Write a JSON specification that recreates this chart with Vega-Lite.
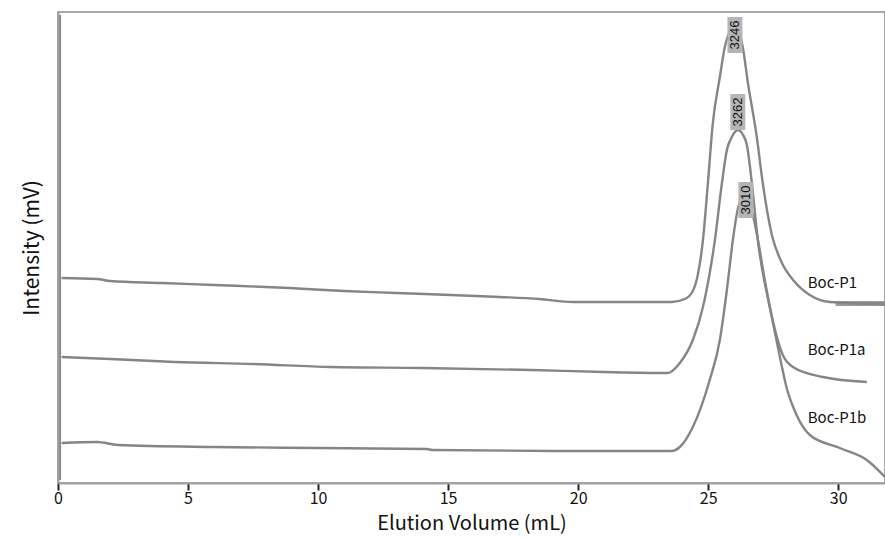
{
  "$schema": "https://vega.github.io/schema/vega-lite/v6.json",
  "width": 827,
  "height": 471,
  "autosize": {"type": "none"},
  "padding": {"left": 58, "top": 12, "right": 0, "bottom": 55},
  "background": "white",
  "config": {
    "view": {"stroke": "#a8a8a8", "strokeWidth": 2},
    "font": "Noto Sans CJK JP",
    "axis": {"grid": false}
  },
  "datasets": {
    "traces": [
      {"series": "Boc-P1", "x": 0.14, "y": 205},
      {"series": "Boc-P1", "x": 1.5, "y": 204},
      {"series": "Boc-P1", "x": 2.0, "y": 202},
      {"series": "Boc-P1", "x": 4.0, "y": 200},
      {"series": "Boc-P1", "x": 6.0, "y": 198},
      {"series": "Boc-P1", "x": 8.9, "y": 195},
      {"series": "Boc-P1", "x": 11.0, "y": 192},
      {"series": "Boc-P1", "x": 13.0, "y": 190},
      {"series": "Boc-P1", "x": 15.1, "y": 188},
      {"series": "Boc-P1", "x": 17.0, "y": 186},
      {"series": "Boc-P1", "x": 18.5, "y": 184},
      {"series": "Boc-P1", "x": 19.8, "y": 181},
      {"series": "Boc-P1", "x": 22.0, "y": 181},
      {"series": "Boc-P1", "x": 23.6, "y": 181},
      {"series": "Boc-P1", "x": 24.1, "y": 184},
      {"series": "Boc-P1", "x": 24.37, "y": 190},
      {"series": "Boc-P1", "x": 24.6, "y": 208},
      {"series": "Boc-P1", "x": 24.8, "y": 243},
      {"series": "Boc-P1", "x": 24.99, "y": 300},
      {"series": "Boc-P1", "x": 25.18, "y": 360},
      {"series": "Boc-P1", "x": 25.45, "y": 406},
      {"series": "Boc-P1", "x": 25.64, "y": 436},
      {"series": "Boc-P1", "x": 25.85, "y": 452},
      {"series": "Boc-P1", "x": 26.03, "y": 456},
      {"series": "Boc-P1", "x": 26.2, "y": 450},
      {"series": "Boc-P1", "x": 26.33, "y": 436},
      {"series": "Boc-P1", "x": 26.53, "y": 400},
      {"series": "Boc-P1", "x": 26.87, "y": 346},
      {"series": "Boc-P1", "x": 27.1, "y": 300},
      {"series": "Boc-P1", "x": 27.45, "y": 248},
      {"series": "Boc-P1", "x": 27.8, "y": 222},
      {"series": "Boc-P1", "x": 28.3, "y": 202},
      {"series": "Boc-P1", "x": 28.91, "y": 188},
      {"series": "Boc-P1", "x": 29.68, "y": 181},
      {"series": "Boc-P1", "x": 31.8, "y": 179},
      {"series": "Boc-P1a", "x": 0.14, "y": 126},
      {"series": "Boc-P1a", "x": 2.0, "y": 124},
      {"series": "Boc-P1a", "x": 4.5, "y": 121},
      {"series": "Boc-P1a", "x": 7.5, "y": 119},
      {"series": "Boc-P1a", "x": 10.5, "y": 116},
      {"series": "Boc-P1a", "x": 14.0, "y": 115},
      {"series": "Boc-P1a", "x": 18.2, "y": 113},
      {"series": "Boc-P1a", "x": 21.0, "y": 111},
      {"series": "Boc-P1a", "x": 23.45, "y": 110},
      {"series": "Boc-P1a", "x": 23.91, "y": 120},
      {"series": "Boc-P1a", "x": 24.41, "y": 143},
      {"series": "Boc-P1a", "x": 24.8, "y": 176},
      {"series": "Boc-P1a", "x": 25.06, "y": 210},
      {"series": "Boc-P1a", "x": 25.26, "y": 243},
      {"series": "Boc-P1a", "x": 25.53, "y": 300},
      {"series": "Boc-P1a", "x": 25.72, "y": 333},
      {"series": "Boc-P1a", "x": 25.91, "y": 346},
      {"series": "Boc-P1a", "x": 26.14, "y": 353},
      {"series": "Boc-P1a", "x": 26.32, "y": 349},
      {"series": "Boc-P1a", "x": 26.49, "y": 338},
      {"series": "Boc-P1a", "x": 26.68, "y": 300},
      {"series": "Boc-P1a", "x": 26.91, "y": 243},
      {"series": "Boc-P1a", "x": 27.37, "y": 176},
      {"series": "Boc-P1a", "x": 27.87, "y": 128},
      {"series": "Boc-P1a", "x": 28.26, "y": 116},
      {"series": "Boc-P1a", "x": 29.41, "y": 106},
      {"series": "Boc-P1a", "x": 31.1, "y": 101},
      {"series": "Boc-P1b", "x": 0.14, "y": 40},
      {"series": "Boc-P1b", "x": 1.5, "y": 41},
      {"series": "Boc-P1b", "x": 2.3, "y": 38},
      {"series": "Boc-P1b", "x": 6.0, "y": 36},
      {"series": "Boc-P1b", "x": 10.0, "y": 35},
      {"series": "Boc-P1b", "x": 14.18, "y": 34},
      {"series": "Boc-P1b", "x": 14.4, "y": 33},
      {"series": "Boc-P1b", "x": 19.0, "y": 32},
      {"series": "Boc-P1b", "x": 23.6, "y": 32},
      {"series": "Boc-P1b", "x": 23.91, "y": 36},
      {"series": "Boc-P1b", "x": 24.41, "y": 56},
      {"series": "Boc-P1b", "x": 25.06, "y": 103},
      {"series": "Boc-P1b", "x": 25.45, "y": 143},
      {"series": "Boc-P1b", "x": 25.72, "y": 193},
      {"series": "Boc-P1b", "x": 25.95, "y": 243},
      {"series": "Boc-P1b", "x": 26.15, "y": 275},
      {"series": "Boc-P1b", "x": 26.41, "y": 288},
      {"series": "Boc-P1b", "x": 26.7, "y": 270},
      {"series": "Boc-P1b", "x": 26.95, "y": 238},
      {"series": "Boc-P1b", "x": 27.15, "y": 207},
      {"series": "Boc-P1b", "x": 27.4, "y": 172},
      {"series": "Boc-P1b", "x": 27.68, "y": 136},
      {"series": "Boc-P1b", "x": 28.02, "y": 95},
      {"series": "Boc-P1b", "x": 28.4, "y": 68},
      {"series": "Boc-P1b", "x": 28.91, "y": 48},
      {"series": "Boc-P1b", "x": 30.06, "y": 35},
      {"series": "Boc-P1b", "x": 31.1, "y": 23},
      {"series": "Boc-P1b", "x": 31.8, "y": 6}
    ],
    "names": [
      {"series": "Boc-P1", "x": 28.83, "y": 200},
      {"series": "Boc-P1a", "x": 28.83, "y": 133},
      {"series": "Boc-P1b", "x": 28.83, "y": 65}
    ],
    "peaks": [
      {"label": "3246", "x": 26.03, "y": 448, "ylo": 430, "yhi": 466},
      {"label": "3262", "x": 26.14, "y": 371, "ylo": 353, "yhi": 389},
      {"label": "3010", "x": 26.45, "y": 283, "ylo": 265, "yhi": 301}
    ],
    "spike": [
      {"x": 0.08, "ylo": 3, "yhi": 468}
    ],
    "band": [
      {"x": 29.9, "x2": 31.8, "ylo": 177, "yhi": 182}
    ]
  },
  "layer": [
    {
      "data": {"name": "spike"},
      "mark": {"type": "rule", "color": "#8a8a8a", "strokeWidth": 2},
      "encoding": {
        "x": {"field": "x", "type": "quantitative", "scale": {"domain": [0, 31.8], "nice": false, "zero": false},
          "axis": {"values": [0, 5, 10, 15, 20, 25, 30], "title": "Elution Volume (mL)", "titleFontSize": 20, "titleFontWeight": "normal", "titleColor": "#111", "titlePadding": 7, "labelFontSize": 16, "labelColor": "#111", "labelPadding": 0, "tickSize": 7, "tickWidth": 2, "tickColor": "#222", "domainColor": "#a0a0a0", "domainWidth": 2, "labelFlush": false}},
        "y": {"field": "ylo", "type": "quantitative", "scale": {"domain": [0, 471], "nice": false},
          "axis": {"title": "Intensity (mV)", "titleFontSize": 21, "titleFontWeight": "normal", "titleColor": "#111", "labels": false, "ticks": false, "titlePadding": 16, "domainColor": "#a0a0a0", "domainWidth": 2}},
        "y2": {"field": "yhi"}
      }
    },
    {
      "data": {"name": "band"},
      "mark": {"type": "rect", "color": "#9a9a9a"},
      "encoding": {
        "x": {"field": "x", "type": "quantitative"},
        "x2": {"field": "x2"},
        "y": {"field": "ylo", "type": "quantitative"},
        "y2": {"field": "yhi"}
      }
    },
    {
      "data": {"name": "traces"},
      "mark": {"type": "line", "color": "#858585", "strokeWidth": 2.4, "interpolate": "monotone"},
      "encoding": {
        "x": {"field": "x", "type": "quantitative"},
        "y": {"field": "y", "type": "quantitative"},
        "detail": {"field": "series"}
      }
    },
    {
      "data": {"name": "peaks"},
      "mark": {"type": "rule", "color": "#b5b5b5", "strokeWidth": 15},
      "encoding": {
        "x": {"field": "x", "type": "quantitative"},
        "y": {"field": "ylo", "type": "quantitative"},
        "y2": {"field": "yhi"}
      }
    },
    {
      "data": {"name": "peaks"},
      "mark": {"type": "text", "angle": 270, "fontSize": 13, "color": "#111", "align": "center", "baseline": "middle", "font": "Liberation Sans"},
      "encoding": {
        "x": {"field": "x", "type": "quantitative"},
        "y": {"field": "y", "type": "quantitative"},
        "text": {"field": "label"}
      }
    },
    {
      "data": {"name": "names"},
      "mark": {"type": "text", "fontSize": 15, "color": "#111", "align": "left", "baseline": "middle"},
      "encoding": {
        "x": {"field": "x", "type": "quantitative"},
        "y": {"field": "y", "type": "quantitative"},
        "text": {"field": "series"}
      }
    }
  ]
}
